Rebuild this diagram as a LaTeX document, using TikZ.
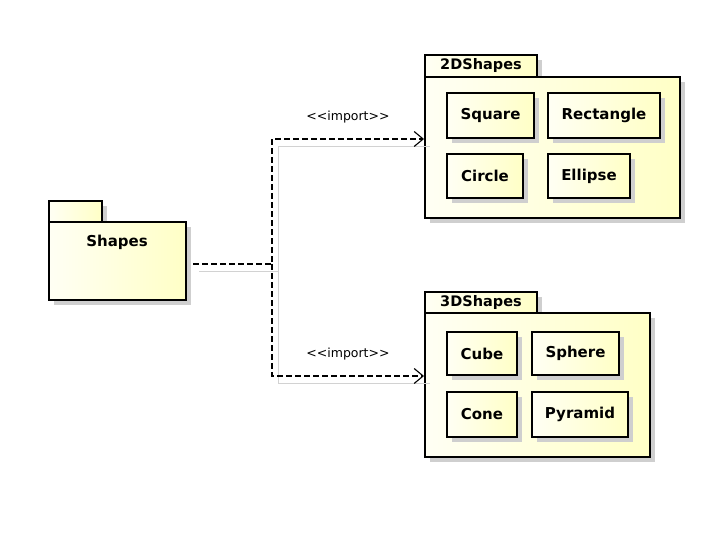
\documentclass[tikz,border=0pt]{standalone}
\usepackage{fontspec}
\setmainfont{DejaVu Sans}
\usetikzlibrary{arrows.meta,positioning,shadows}
\definecolor{UmlPale}{HTML}{FFFFF4}
\definecolor{UmlCream}{HTML}{FFFFC6}
\definecolor{UmlShadow}{HTML}{CFCFCF}
\tikzset{
  umlshadow/.style={drop shadow={shadow xshift=5pt, shadow yshift=-5pt, fill=UmlShadow, opacity=1}},
  umlfill/.style={left color=UmlPale, right color=UmlCream},
  importarrow/.style={-{Straight Barb[length=9pt,width=15pt]}, line width=1.1pt,
    dash pattern=on 6pt off 3pt},
  importghost/.style={draw=gray!35, line width=0.8pt},
  importlabel/.style={font=\fontsize{12.5}{14}\selectfont, inner sep=0pt}
}

\begin{document}
\begin{tikzpicture}[
  x=1pt, y=-1pt,
  pkgtab/.style={draw, line width=2pt, umlfill, umlshadow, inner sep=0pt,
    font=\fontsize{14.5}{16}\selectfont\bfseries},
  pkgbody/.style={draw, line width=2pt, umlfill, umlshadow, inner sep=0pt},
  classbox/.style={draw, line width=2.2pt, umlfill, umlshadow, inner sep=0pt,
    font=\fontsize{15}{17}\selectfont\bfseries}
]
\useasboundingbox (0,0) rectangle (720,540);

% package Shapes
\node[pkgtab, minimum width=53pt, minimum height=21pt] at (75.5,211.5) (shapestab) {};
\node[pkgbody, minimum width=137pt, minimum height=78pt] at (117.5,261) (shapes) {};
\node[font=\fontsize{15}{17}\selectfont\bfseries] at (117,242) (shapeslbl) {Shapes};

% package 2DShapes
\node[pkgtab, minimum width=112pt, minimum height=22pt] at (481,66) (twoDtab) {2DShapes};
\node[pkgbody, minimum width=255pt, minimum height=141pt] at (552.5,147.5) (twoD) {};
\node[classbox, minimum width=87pt, minimum height=45pt] at (490.5,115.5) (square) {Square};
\node[classbox, minimum width=112pt, minimum height=45pt] at (604,115.5) (rectangle) {Rectangle};
\node[classbox, minimum width=76pt, minimum height=44pt] at (485,176) (circle) {Circle};
\node[classbox, minimum width=82pt, minimum height=44pt] at (589,176) (ellipse) {Ellipse};

% package 3DShapes
\node[pkgtab, minimum width=112pt, minimum height=21pt] at (481,302.5) (threeDtab) {3DShapes};
\node[pkgbody, minimum width=225pt, minimum height=144pt] at (537.5,385) (threeD) {};
\node[classbox, minimum width=70pt, minimum height=43pt] at (482,353.5) (cube) {Cube};
\node[classbox, minimum width=87pt, minimum height=43pt] at (575.5,353.5) (sphere) {Sphere};
\node[classbox, minimum width=70pt, minimum height=45pt] at (482,414.5) (cone) {Cone};
\node[classbox, minimum width=96pt, minimum height=45pt] at (580,414.5) (pyramid) {Pyramid};

% import dependencies split at a common bend
\coordinate (hub) at (272,264);
\begin{scope}[transform canvas={shift={(6pt,-7pt)}}]
\draw[importghost] ([xshift=6pt]shapes.east |- hub) -- (hub) |- ([yshift=8.5pt]twoD.west);
\draw[importghost] (hub) |- ([yshift=9pt]threeD.west);
\end{scope}
\draw[importarrow] ([xshift=6pt]shapes.east |- hub) -- (hub) |- node[importlabel, pos=0.75, above=15pt] (imp2d) {<\kern0pt<import>\kern0pt>} ([yshift=8.5pt]twoD.west);
\draw[importarrow] (hub) |- node[importlabel, pos=0.75, above=15pt] (imp3d) {<\kern0pt<import>\kern0pt>} ([yshift=9pt]threeD.west);
\end{tikzpicture}
\end{document}
